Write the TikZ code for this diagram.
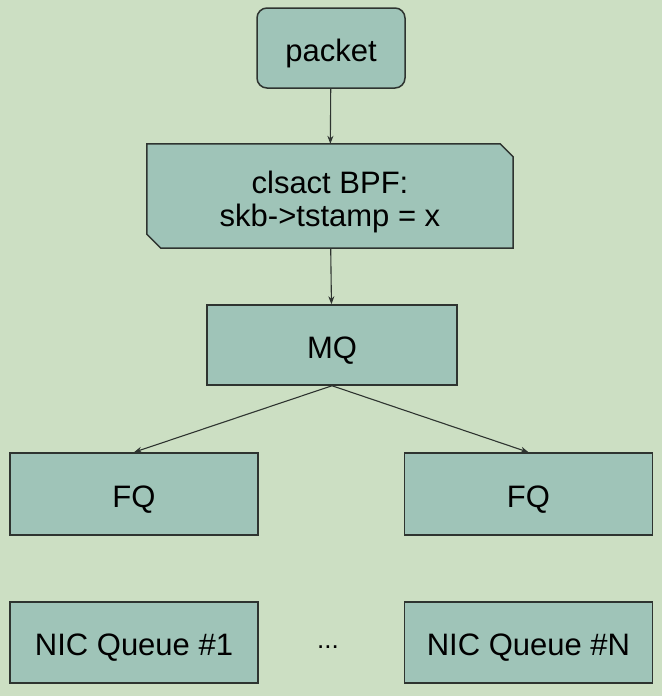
\documentclass[tikz,border=0pt]{standalone}
\usepackage{fontspec}
\setmainfont{Liberation Sans}
\usetikzlibrary{arrows.meta}
\definecolor{bgcol}{HTML}{CCDFC3}
\definecolor{boxcol}{HTML}{9FC4B8}
\definecolor{linecol}{HTML}{2E3430}
\tikzset{
  qbox/.style={draw=linecol, fill=boxcol, line width=1.5pt, inner sep=0pt,
    minimum width=248pt, minimum height=81pt, text height=26pt, text depth=0pt,
    font=\fontsize{31}{33}\selectfont},
  link/.style={-{Stealth[length=8pt,width=6pt]}, line width=1.1pt, draw=linecol},
}
\begin{document}
\begin{tikzpicture}[x=1pt,y=-1pt]
      \fill [bgcol] (0,0) rectangle (662,696);
      \useasboundingbox (0,0) rectangle (662,696);
      \node [qbox, rounded corners=10pt, minimum width=148pt, minimum height=80pt]
       (packet) at (331,48) {packet};
      \node [minimum width=366pt, minimum height=104pt, inner sep=0pt] (bpf) at (330,196) {};
      % the BPF box, cut at two corners
      \filldraw [draw=linecol, fill=boxcol, line width=1.5pt] (bpf.north west)
       -- ([xshift=-13pt]bpf.north east) -- ([yshift=-13pt]bpf.north east)
       -- (bpf.south east) -- ([xshift=14pt]bpf.south west)
       -- ([yshift=14pt]bpf.south west) -- cycle;
      \node [align=center, inner sep=0pt, anchor=base, font=\fontsize{31}{33}\selectfont]
       (bpftext) at (330,226) {clsact BPF:\\skb->tstamp = x};
      \node [qbox, minimum width=250pt, minimum height=80pt] (mq) at (332,345) {MQ};
      \node [qbox, minimum height=82pt] (fq1) at (134,494) {FQ};
      \node [qbox, minimum height=82pt] (fq2) at (528.5,494) {FQ};
      \node [qbox] (nic1) at (134,642.5) {NIC Queue \#1};
      \node [qbox] (nicn) at (528.5,642.5) {NIC Queue \#N};
      \node [anchor=base, font=\fontsize{26}{28}\selectfont] (dots) at (328,648) {...};
      \draw [link] (packet) -- (bpf);
      \draw [link] (bpf) -- (mq);
      \draw [link] (mq.south) -- (fq1.north);
      \draw [link] (mq.south) -- (fq2.north);
\end{tikzpicture}
\end{document}
